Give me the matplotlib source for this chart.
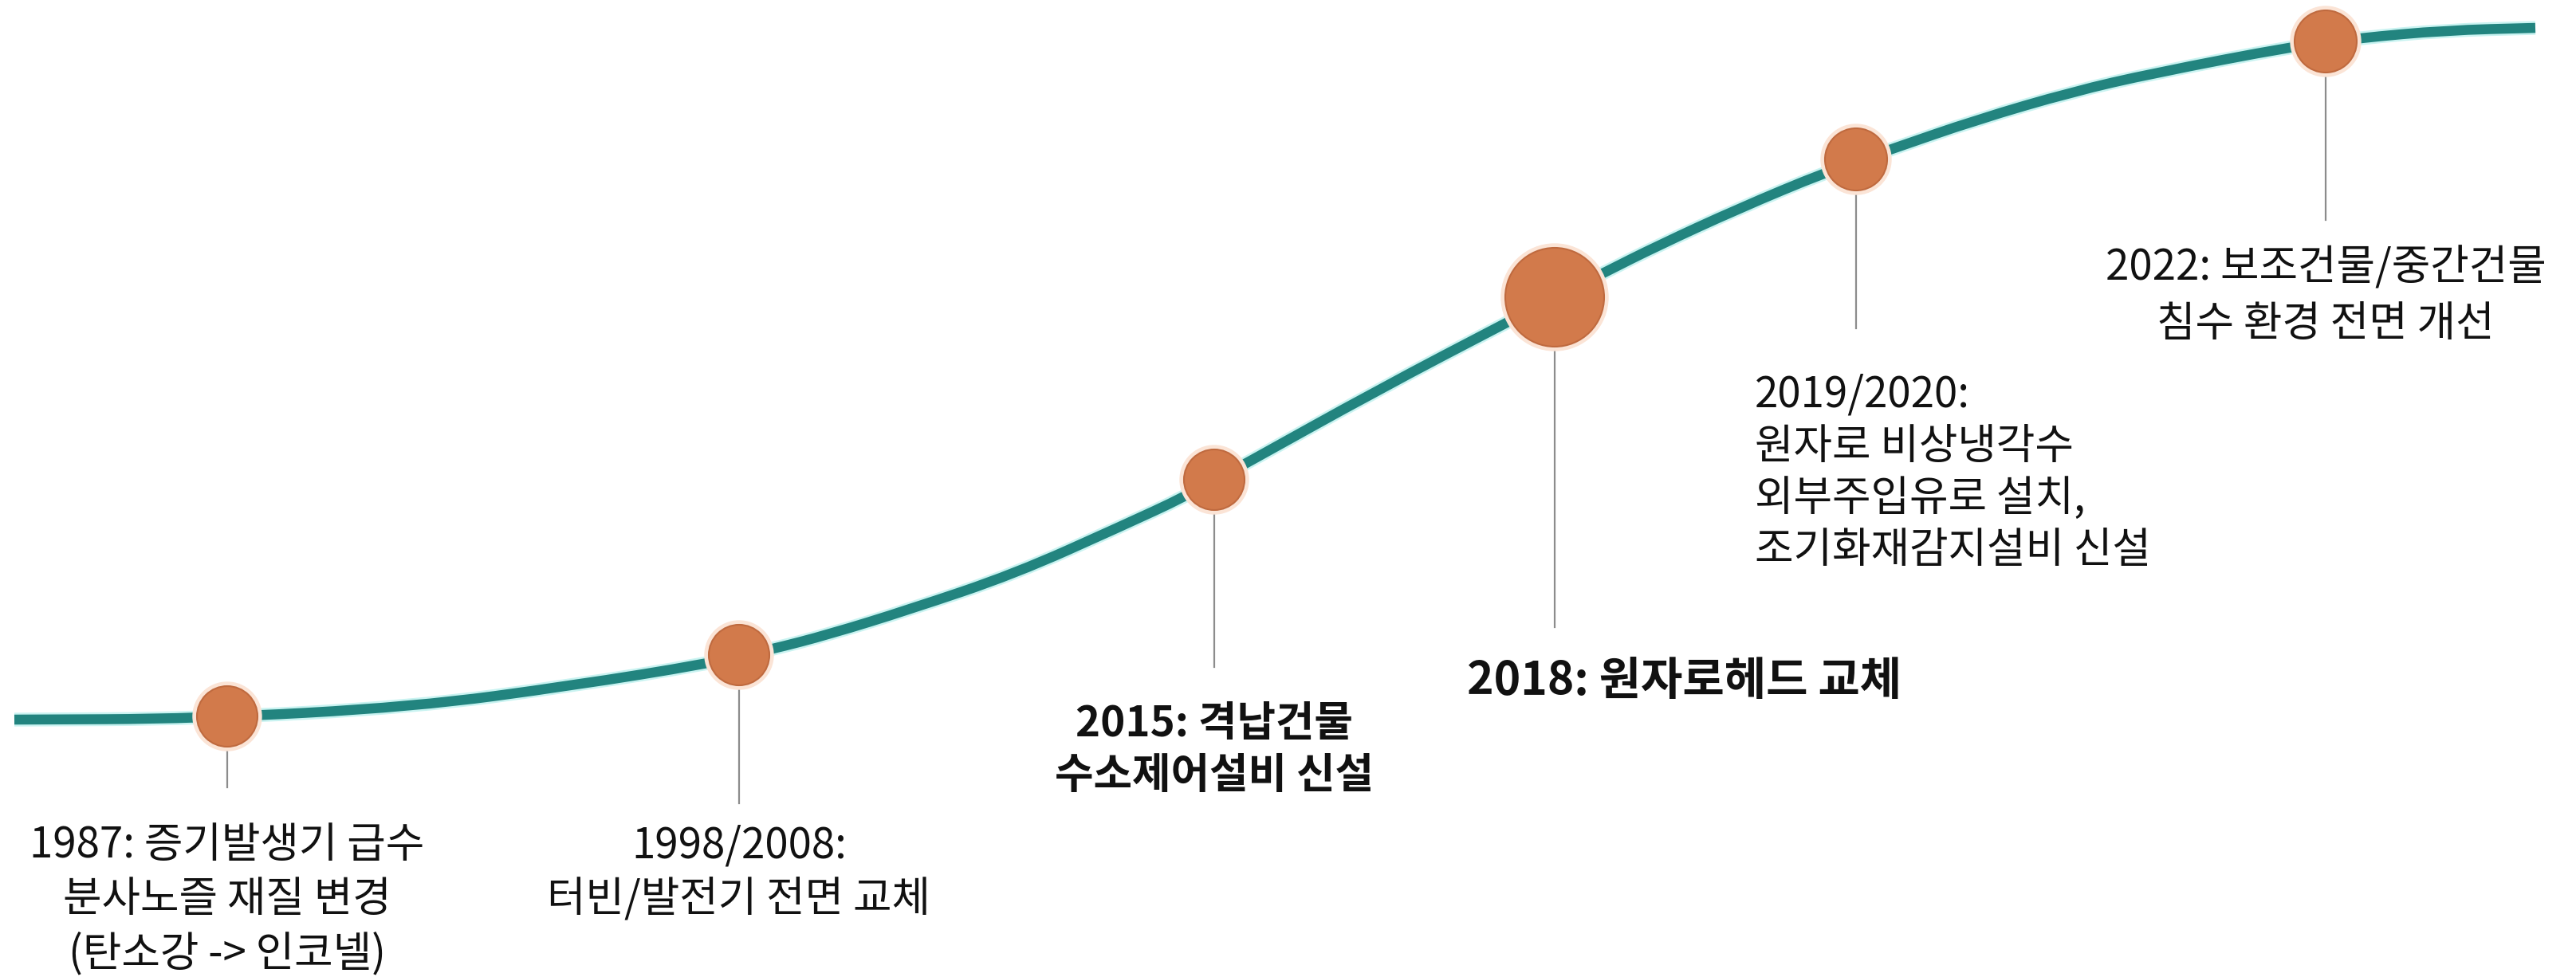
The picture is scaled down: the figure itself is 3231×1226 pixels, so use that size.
import numpy as np
import matplotlib.pyplot as plt
from matplotlib.patches import Circle, PathPatch
from matplotlib.path import Path

plt.rcParams['font.family'] = ['Noto Sans CJK KR', 'DejaVu Sans']

# S-curve (pixel space, y grows downward)
curve_x = [18, 247, 520, 720, 887, 967, 1040, 1140, 1273, 1407, 1487, 1560,
           1727, 1893, 2010, 2080, 2180, 2290, 2370, 2480, 2600, 2700, 2877,
           2957, 3067, 3180]
curve_y = [903, 902, 887, 860, 833, 815, 796, 765, 720, 660, 623, 583,
           490, 403, 343, 308, 262, 216, 188, 150, 115, 92, 58,
           48, 38, 35]

# milestones on the curve
event_x = [285, 927, 1523, 1950, 2328, 2917]
event_y = [899, 822, 602, 373, 200, 52]
event_text = [
    ['1987: 증기발생기 급수', '분사노즐 재질 변경', '(탄소강 -> 인코넬)'],
    ['1998/2008:', '터빈/발전기 전면 교체'],
    ['2015: 격납건물', '수소제어설비 신설'],
    ['2018: 원자로헤드 교체'],
    ['2019/2020:', '원자로 비상냉각수', '외부주입유로 설치,', '조기화재감지설비 신설'],
    ['2022: 보조건물/중간건물', '침수 환경 전면 개선'],
]

# layout
radius = [38, 38, 38, 62, 39, 39]
stem_end = [988, 1008, 837, 787, 412, 276]
text_x = [285, 927, 1523, 1840, 2201, 2917]
text_y0 = [1061, 1061, 909, 855, 495, 336]
line_gap = [68, 68, 64, 0, 65, 70]
text_ha = ['center', 'center', 'center', 'left', 'left', 'center']
text_size = [38, 38, 38, 41, 38, 38]
text_bold = [False, False, True, True, False, False]

teal = '#22847f'
orange = '#d27a4b'

fig = plt.figure(figsize=(32.31, 12.26), dpi=100)
ax = fig.add_axes([0, 0, 1, 1])
ax.set_xlim(0, 3231)
ax.set_ylim(1226, 0)
ax.axis('off')

# smooth the read points with quadratic bezier pieces between midpoints
pts = np.column_stack([curve_x, curve_y]).astype(float)
mids = (pts[:-1] + pts[1:]) / 2
verts = [pts[0], mids[0]]
codes = [Path.MOVETO, Path.LINETO]
for i in range(1, len(pts) - 1):
    verts += [pts[i], mids[i]]
    codes += [Path.CURVE3, Path.CURVE3]
verts.append(pts[-1])
codes.append(Path.LINETO)
path = Path(verts, codes)

ax.add_patch(PathPatch(path, fill=False, edgecolor='#c9f3f1', lw=12.5,
                       capstyle='butt', joinstyle='round', zorder=1))
ax.add_patch(PathPatch(path, fill=False, edgecolor=teal, lw=9,
                       capstyle='butt', joinstyle='round', zorder=2))

for i in range(len(event_x)):
    x, y, r = event_x[i], event_y[i], radius[i]
    ax.plot([x, x], [y + r, stem_end[i]], color='#8c8c8c', lw=1.6, zorder=2)
    ax.add_patch(Circle((x, y), r + 5, color='#fbe4d6', zorder=3))
    ax.add_patch(Circle((x, y), r, facecolor=orange, edgecolor='#bf6a3f',
                        lw=1.5, zorder=4))
    for k, line in enumerate(event_text[i]):
        ax.text(text_x[i], text_y0[i] + k * line_gap[i], line,
                ha=text_ha[i], va='center', fontsize=text_size[i],
                fontweight='bold' if text_bold[i] else 'normal',
                color='#111111')

fig.savefig('out.png', dpi=100, facecolor='white')
